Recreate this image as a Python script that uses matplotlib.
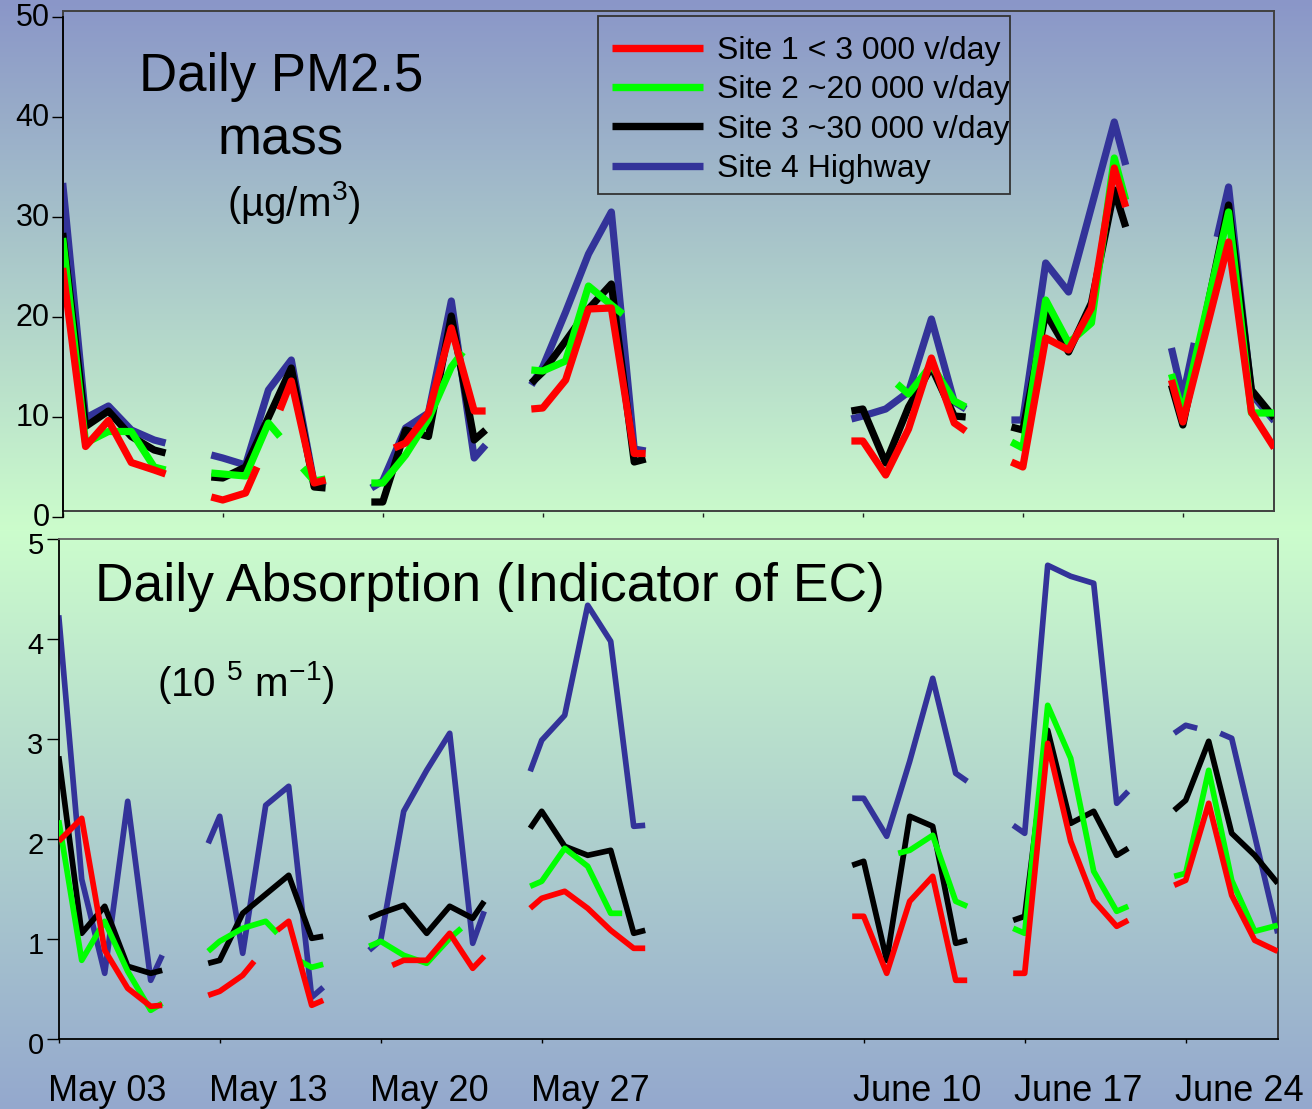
import numpy as np
import matplotlib
matplotlib.use('Agg')
import matplotlib.pyplot as plt
from matplotlib.lines import Line2D
from matplotlib.patches import Rectangle
from matplotlib.transforms import ScaledTranslation

plt.rcParams['font.family'] = ['Liberation Sans', 'DejaVu Sans']
plt.rcParams['mathtext.fontset'] = 'custom'
plt.rcParams['mathtext.rm'] = 'Liberation Sans'
plt.rcParams['mathtext.it'] = 'Liberation Sans:italic'
plt.rcParams['mathtext.bf'] = 'Liberation Sans:bold'

# ---------------------------------------------------------------- data
site_labels = ['Site 1 < 3 000 v/day', 'Site 2 ~20 000 v/day',
               'Site 3 ~30 000 v/day', 'Site 4 Highway']
site_colors = ['#ff0000', '#00ff00', '#000000', '#333399']

tick_days_top = [0, 7, 14, 21, 28, 35, 42, 49]
tick_days = [0, 7, 14, 21, 35, 42, 49]
tick_labels = ['May 03', 'May 13', 'May 20', 'May 27',
               'June 10', 'June 17', 'June 24']

# Daily PM2.5 mass (ug/m3) as (day, value); None = break in the record
pm_site1 = [
    (0, 24.9), (1, 7.05), (2, 9.65), (3, 5.45), (4, 4.7), (4.5, 4.3), None,
    (6.5, 2.0), (7, 1.7), (8, 2.4), (8.5, 5.0), None,
    (9.5, 10.7), (10, 13.6), (11, 3.4), (11.5, 3.7), None,
    (14.5, 6.9), (15, 7.4), (16, 10.4), (17, 18.9), (18, 10.6), (18.5, 10.6), None,
    (20.5, 10.8), (21, 10.9), (22, 13.7), (23, 20.8), (24, 20.9), (25, 6.35), (25.5, 6.35), None,
    (34.5, 7.6), (35, 7.6), (36, 4.2), (37, 8.8), (38, 15.9), (39, 9.4), (39.5, 8.6), None,
    (41.5, 5.5), (42, 5.0), (43, 17.9), (44, 16.7), (45, 20.9), (46, 34.9), (46.5, 31.0), None,
    (48.5, 13.7), (49, 9.5), (51, 27.5), (52, 10.5), (53, 6.9),
]
pm_site2 = [
    (0, 27.9), (1, 7.4), (2, 8.55), (3, 8.55), (4, 5.0), (4.5, 4.7), None,
    (6.5, 4.4), (7, 4.3), (8, 4.1), (9, 9.4), (9.5, 8.05), None,
    (10.5, 4.9), (11, 3.6), (11.5, 3.8), None,
    (13.5, 3.4), (14, 3.4), (15, 6.2), (16, 9.8), (17, 15.0), (17.5, 16.5), None,
    (20.5, 14.7), (21, 14.6), (22, 15.6), (23, 23.1), (24, 21.2), (24.5, 20.3), None,
    (36.5, 13.3), (37, 12.3), (38, 15.2), (39, 11.6), (39.5, 11.0), None,
    (41.5, 7.5), (42, 6.9), (43, 21.7), (44, 17.4), (45, 19.4), (46, 35.9), (46.5, 31.7), None,
    (48.5, 14.3), (49, 10.4), (51, 30.5), (52, 10.4), (53, 10.4),
]
pm_site3 = [
    (0, 28.4), (1, 9.05), (2, 10.6), (3, 8.05), (4, 6.7), (4.5, 6.4), None,
    (6.5, 4.0), (7, 3.9), (8, 5.0), (10, 14.9), (11, 3.0), (11.5, 2.9), None,
    (13.5, 1.5), (14, 1.5), (15, 8.7), (16, 8.05), (17, 20.1), (18, 7.7), (18.5, 8.7), None,
    (20.5, 13.4), (21, 14.5), (22, 17.6), (23, 20.8), (24, 23.3), (25, 5.5), (25.5, 5.8), None,
    (34.5, 10.6), (35, 10.8), (36, 5.4), (37, 11.0), (38, 15.0), (39, 10.1), (39.5, 10.0), None,
    (41.5, 9.0), (42, 8.7), (43, 20.4), (44, 16.5), (45, 21.4), (46, 32.7), (46.5, 29.0), None,
    (48.5, 13.2), (49, 9.2), (51, 31.2), (52, 12.7), (53, 9.9),
]
pm_site4 = [
    (0, 33.4), (1, 9.9), (2, 11.1), (3, 8.7), (4, 7.7), (4.5, 7.4), None,
    (6.5, 6.2), (7, 5.9), (8, 5.2), (9, 12.7), (10, 15.7), (11, 3.3), (11.5, 3.6), None,
    (13.5, 2.9), (14, 3.6), (15, 8.9), (16, 10.4), (17, 21.6), (18, 5.9), (18.5, 7.2), None,
    (20.5, 13.2), (21, 15.0), (22, 20.5), (23, 26.3), (24, 30.5), (25, 6.8), (25.5, 6.6), None,
    (34.5, 9.8), (35, 10.1), (36, 10.8), (37, 12.5), (38, 19.8), (39, 11.5), (39.5, 10.8), None,
    (41.5, 9.7), (42, 9.7), (43, 25.4), (44, 22.5), (45, 31.0), (46, 39.5), (46.5, 35.2), None,
    (48.5, 16.9), (49, 12.0), (49.5, 17.4), None,
    (50.5, 28.0), (51, 33.0), (52, 12.3), (53, 9.6),
]

# Daily absorption (1e-5 m-1)
ab_site1 = [
    (0, 1.98), (1, 2.21), (2, 0.89), (3, 0.51), (4, 0.33), (4.5, 0.34), None,
    (6.5, 0.44), (7, 0.48), (8, 0.64), (8.5, 0.78), None,
    (9.5, 1.09), (10, 1.18), (11, 0.34), (11.5, 0.39), None,
    (14.5, 0.74), (15, 0.79), (16, 0.79), (17, 1.06), (18, 0.71), (18.5, 0.83), None,
    (20.5, 1.31), (21, 1.41), (22, 1.48), (23, 1.31), (24, 1.09), (25, 0.91), (25.5, 0.91), None,
    (34.5, 1.23), (35, 1.23), (36, 0.66), (37, 1.38), (38, 1.63), (39, 0.59), (39.5, 0.59), None,
    (41.5, 0.66), (42, 0.66), (43, 2.96), (44, 1.98), (45, 1.39), (46, 1.13), (46.5, 1.19), None,
    (48.5, 1.54), (49, 1.59), (50, 2.36), (51, 1.44), (52, 0.99), (53, 0.88),
]
ab_site2 = [
    (0, 2.19), (1, 0.79), (2, 1.18), (3, 0.68), (4, 0.29), (4.5, 0.36), None,
    (6.5, 0.88), (7, 0.98), (8, 1.11), (9, 1.18), (9.5, 1.06), None,
    (10.5, 0.78), (11, 0.72), (11.5, 0.75), None,
    (13.5, 0.93), (14, 0.98), (15, 0.84), (16, 0.76), (17, 1.01), (17.5, 1.11), None,
    (20.5, 1.53), (21, 1.58), (22, 1.91), (23, 1.73), (24, 1.26), (24.5, 1.26), None,
    (36.5, 1.86), (37, 1.89), (38, 2.04), (39, 1.38), (39.5, 1.33), None,
    (41.5, 1.11), (42, 1.06), (43, 3.34), (44, 2.81), (45, 1.68), (46, 1.28), (46.5, 1.33), None,
    (48.5, 1.63), (49, 1.66), (50, 2.69), (51, 1.59), (52, 1.08), (53, 1.14),
]
ab_site3 = [
    (0, 2.83), (1, 1.06), (2, 1.33), (3, 0.73), (4, 0.66), (4.5, 0.69), None,
    (6.5, 0.76), (7, 0.79), (8, 1.26), (10, 1.64), (11, 1.01), (11.5, 1.03), None,
    (13.5, 1.21), (14, 1.26), (15, 1.34), (16, 1.06), (17, 1.33), (18, 1.21), (18.5, 1.38), None,
    (20.5, 2.11), (21, 2.28), (22, 1.93), (23, 1.84), (24, 1.89), (25, 1.06), (25.5, 1.09), None,
    (34.5, 1.74), (35, 1.78), (36, 0.79), (37, 2.23), (38, 2.13), (39, 0.96), (39.5, 0.99), None,
    (41.5, 1.19), (42, 1.23), (43, 3.09), (44, 2.16), (45, 2.28), (46, 1.84), (46.5, 1.91), None,
    (48.5, 2.29), (49, 2.39), (50, 2.98), (51, 2.06), (52, 1.84), (53, 1.56),
]
ab_site4 = [
    (0, 4.24), (1, 1.6), (2, 0.66), (3, 2.38), (4, 0.59), (4.5, 0.84), None,
    (6.5, 1.96), (7, 2.23), (8, 0.86), (9, 2.34), (10, 2.53), (11, 0.42), (11.5, 0.52), None,
    (13.5, 0.89), (14, 0.99), (15, 2.28), (16, 2.69), (17, 3.06), (18, 0.96), (18.5, 1.28), None,
    (20.5, 2.68), (21, 2.99), (22, 3.24), (23, 4.34), (24, 3.98), (25, 2.13), (25.5, 2.14), None,
    (34.5, 2.41), (35, 2.41), (36, 2.03), (37, 2.78), (38, 3.61), (39, 2.66), (39.5, 2.58), None,
    (41.5, 2.14), (42, 2.06), (43, 4.74), (44, 4.63), (45, 4.56), (46, 2.36), (46.5, 2.48), None,
    (48.5, 3.06), (49, 3.14), (49.5, 3.11), None,
    (50.5, 3.06), (51, 3.01), (53, 1.06),
]


def unpack(points):
    days = [np.nan if p is None else p[0] for p in points]
    vals = [np.nan if p is None else p[1] for p in points]
    return days, vals


# ---------------------------------------------------------------- figure
W, H = 1312, 1109
fig = plt.figure(figsize=(W / 100, H / 100), dpi=100)


def fx(x):
    return x / W


def fy(y):
    return 1 - y / H


# vertical background wash: blue -> pale green -> blue
bg = fig.add_axes([0, 0, 1, 1], zorder=0)
rows = np.arange(H)
stops_y = [0, 530, H - 1]
stops_c = np.array([[138, 150, 200], [204, 253, 204], [148, 168, 206]]) / 255
grad = np.stack([np.interp(rows, stops_y, stops_c[:, k]) for k in range(3)], axis=1)
bg.imshow(grad[:, None, :], aspect='auto', extent=[0, 1, 0, 1], origin='upper')
bg.axis('off')

# top panel geometry (pixels)
t_left, t_right, t_top, t_bot = 62.7, 1274.3, 10.8, 510.5
t_zero, t_fifty = 517.0, 17.0
px_per_unit = (t_zero - t_fifty) / 50

ax1 = fig.add_axes([fx(t_left), fy(t_bot), fx(t_right - t_left), (t_bot - t_top) / H], zorder=2)
ax1.set_facecolor('none')
ax1.set_xlim(0, 53)
ax1.set_ylim((t_zero - t_bot) / px_per_unit, (t_zero - t_top) / px_per_unit)
ax1.set_xticks([])
ax1.set_yticks([])
for s in ax1.spines.values():
    s.set_color('#404040')
    s.set_linewidth(1.4)

# value axis for the top panel
ax1y = fig.add_axes([fx(t_left), fy(t_zero), fx(t_right - t_left), (t_zero - t_fifty) / H], zorder=3)
ax1y.patch.set_visible(False)
ax1y.set_xlim(0, 53)
ax1y.set_ylim(0, 50)
ax1y.set_yticks(np.arange(0, 51, 10))
ax1y.set_xticks(tick_days_top)
ax1y.set_xticklabels([])
for k in ['top', 'right', 'bottom']:
    ax1y.spines[k].set_visible(False)
ax1y.spines['left'].set_color('#000000')
ax1y.spines['left'].set_linewidth(1.3)
ax1y.tick_params(axis='y', length=8, width=1.0, pad=1.5, labelsize=22, colors='black')
ax1y.tick_params(axis='x', direction='in', length=3, width=1.0, colors='#202020')
up = ScaledTranslation(0, 2 / 100, fig.dpi_scale_trans)
for lbl in ax1y.get_yticklabels():
    lbl.set_transform(lbl.get_transform() + up)

# bottom panel geometry (pixels)
b_left, b_right, b_top, b_bot = 58.7, 1277.7, 539.3, 1039.3
ax2 = fig.add_axes([fx(b_left), fy(b_bot), fx(b_right - b_left), (b_bot - b_top) / H], zorder=2)
ax2.set_facecolor('none')
ax2.set_xlim(0, 53)
ax2.set_ylim(0, 5)
ax2.set_yticks(range(0, 6))
ax2.set_xticks(tick_days)
ax2.set_xticklabels(tick_labels)
ax2.tick_params(axis='y', length=8.5, width=1.0, pad=2.4, labelsize=21)
ax2.tick_params(axis='x', length=3, width=1.0, pad=22, labelsize=26)
ax2.spines['left'].set_color('#000000')
ax2.spines['bottom'].set_color('#000000')
ax2.spines['top'].set_color('#606060')
ax2.spines['right'].set_color('#303030')
for s in ax2.spines.values():
    s.set_linewidth(1.3)
shift = ScaledTranslation(-11 / 100, 0, fig.dpi_scale_trans)
for lbl in ax2.get_xticklabels():
    lbl.set_horizontalalignment('left')
    lbl.set_transform(lbl.get_transform() + shift)
down = ScaledTranslation(0, -4 / 100, fig.dpi_scale_trans)
for lbl in ax2.get_yticklabels():
    lbl.set_transform(lbl.get_transform() + down)

# ---------------------------------------------------------------- series
pm_series = [pm_site1, pm_site2, pm_site3, pm_site4]
ab_series = [ab_site1, ab_site2, ab_site3, ab_site4]
zorders = [5, 4, 3, 2]
for pts, col, z in zip(pm_series, site_colors, zorders):
    d, v = unpack(pts)
    ax1.plot(d, v, color=col, lw=5.2, zorder=z,
             solid_capstyle='butt', solid_joinstyle='round')
for pts, col, z in zip(ab_series, site_colors, zorders):
    d, v = unpack(pts)
    ax2.plot(d, v, color=col, lw=4.1, zorder=z,
             solid_capstyle='butt', solid_joinstyle='round')

# legend: entries without their own frame, boxed by a separate outline
handles = [Line2D([], [], color=c, lw=5.3, solid_capstyle='butt') for c in site_colors]
leg = ax1.legend(handles, site_labels, loc='upper left',
                 bbox_to_anchor=(fx(612), fy(36)), bbox_transform=fig.transFigure,
                 borderaxespad=0, borderpad=0, fontsize=23, frameon=False,
                 handlelength=2.84, handletextpad=0.45, labelspacing=0.29)
leg.set_zorder(10)
fig.add_artist(Rectangle((fx(598), fy(194.4)), fx(412), 178.2 / H,
                         transform=fig.transFigure, fill=False,
                         edgecolor='#333333', linewidth=1.3, zorder=10))

# ---------------------------------------------------------------- titles
fig.text(fx(281), fy(91.3), 'Daily PM2.5', fontsize=38, ha='center', va='baseline', zorder=6)
fig.text(fx(281), fy(154.8), 'mass', fontsize=38, ha='center', va='baseline', zorder=6)
fig.text(fx(294), fy(216.4), '(\u00b5g/m$\\mathregular{^{3}}$)', fontsize=29,
         ha='center', va='baseline', zorder=6)
fig.text(fx(95), fy(601), 'Daily Absorption (Indicator of EC)', fontsize=38.4,
         ha='left', va='baseline', zorder=6)
fig.text(fx(156.7), fy(696), r'(10 $\mathregular{^{5}}$ m$\mathregular{^{-1}}$)', fontsize=29,
         ha='left', va='baseline', zorder=6)

fig.savefig('out.png', dpi=100)
